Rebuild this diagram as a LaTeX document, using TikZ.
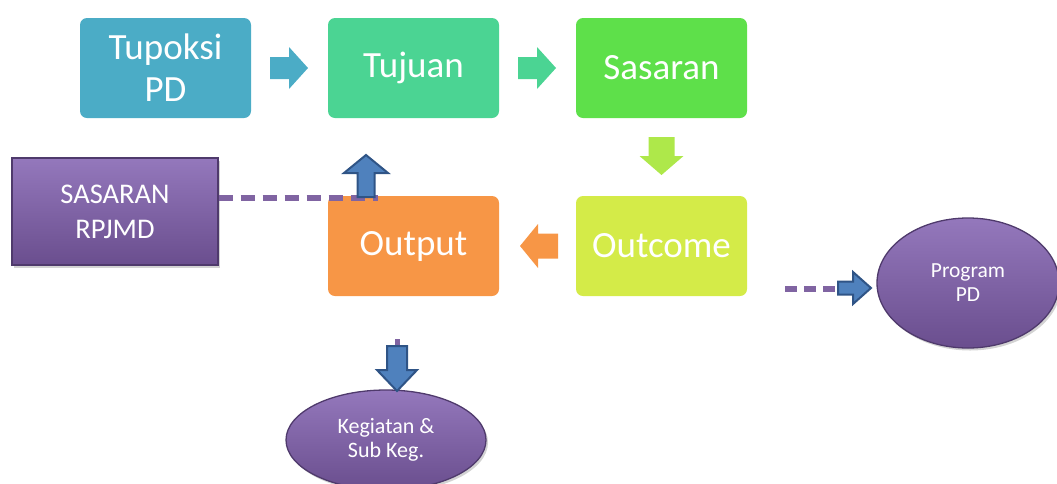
\documentclass[tikz,border=0pt]{standalone}
\usepackage{fontspec}
\setmainfont{Carlito}
\usetikzlibrary{shapes.geometric,shadows}
\definecolor{cTup}{HTML}{4BACC6}
\definecolor{cTuj}{HTML}{4BD493}
\definecolor{cSas}{HTML}{5EE04A}
\definecolor{cOutc}{HTML}{D4EB48}
\definecolor{cOutp}{HTML}{F79646}
\definecolor{cDown}{HTML}{AEE84A}
\definecolor{pLight}{HTML}{9478BC}
\definecolor{pDark}{HTML}{6A4E8E}
\definecolor{pBorder}{HTML}{4F3A6C}
\definecolor{pLine}{HTML}{8064A2}
\definecolor{bFill}{HTML}{4F81BD}
\definecolor{bBorder}{HTML}{2F5486}
\begin{document}
\begin{tikzpicture}[x=1pt,y=1pt,
  box/.style={rounded corners=7pt, minimum width=171pt, minimum height=100pt,
    text=white, font=\fontsize{37}{42}\selectfont, align=center, inner sep=0pt},
  purp/.style={top color=pLight, bottom color=pDark, draw=pBorder, line width=1.3pt,
    text=white, align=center, inner sep=0pt,
    drop shadow={shadow xshift=2pt, shadow yshift=-2.5pt, opacity=0.35}},
  dashline/.style={pLine, line width=5.5pt, dash pattern=on 14pt off 8pt},
  bluearrow/.style={fill=bFill, draw=bBorder, line width=2pt, line join=miter}
]
\useasboundingbox (0,0) rectangle (1057,-483);

% main boxes
\node[box, fill=cTup] (tup) at (165.5,-68) {Tupoksi\\PD};
\node[box, fill=cTuj] (tuj) at (413.5,-68) {Tujuan};
\node[box, fill=cSas] (sas) at (661.5,-68) {Sasaran};
\node[box, fill=cOutc] (outc) at (661.5,-246) {Outcome};
\node[box, fill=cOutp] (outp) at (413.5,-246) {Output};

% purple shapes
\node[purp, rectangle, minimum width=206pt, minimum height=107pt,
  font=\fontsize{28.5}{35}\selectfont] (rpjmd) at (115,-211.5) {SASARAN\\RPJMD};
\node[purp, ellipse, minimum width=182pt, minimum height=130pt,
  font=\fontsize{21.5}{24}\selectfont] (prog) at (968,-283) {Program\\PD};
\node[purp, ellipse, minimum width=200pt, minimum height=100pt,
  font=\fontsize{22}{24}\selectfont] (keg) at (386,-440) {Kegiatan \&\\Sub Keg.};

% flat block arrows
\fill[cTup, shift={(270,-68)}] (0,11) -- (19,11) -- (19,21) -- (38,0) -- (19,-21) -- (19,-11) -- (0,-11) -- cycle;
\fill[cTuj, shift={(518,-68)}] (0,11) -- (19,11) -- (19,21) -- (38,0) -- (19,-21) -- (19,-11) -- (0,-11) -- cycle;
\fill[cDown, shift={(661.5,-137)}, rotate=-90] (0,13) -- (19,13) -- (19,22) -- (38,0) -- (19,-22) -- (19,-13) -- (0,-13) -- cycle;
\fill[cOutp, shift={(558,-246)}, rotate=180] (0,12.5) -- (20,12.5) -- (20,22) -- (38,0) -- (20,-22) -- (20,-12.5) -- (0,-12.5) -- cycle;

% dashed connectors
\coordinate (upend) at (378,-198);
\draw[dashline] (rpjmd.east |- upend) -- (upend);
\coordinate (progstart) at (785,-289);
\coordinate (progend) at (842,-289);
\draw[dashline, dash pattern=on 12pt off 7pt] (progstart) -- (progend);
\draw[pLine, line width=5pt] (397,-339) -- (397,-347);

% blue block arrows
\draw[bluearrow, shift={(366,-197)}, rotate=90] (0,8.5) -- (24,8.5) -- (24,22) -- (42,0) -- (24,-22) -- (24,-8.5) -- (0,-8.5) -- cycle;
\draw[bluearrow, shift={(397,-346)}, rotate=-90] (0,10) -- (24,10) -- (24,20) -- (45,0) -- (24,-20) -- (24,-10) -- (0,-10) -- cycle;
\draw[bluearrow, shift={(838,-288)}, rotate=0] (0,6.5) -- (15,6.5) -- (15,16) -- (33,0) -- (15,-16) -- (15,-6.5) -- (0,-6.5) -- cycle;
\end{tikzpicture}
\end{document}
